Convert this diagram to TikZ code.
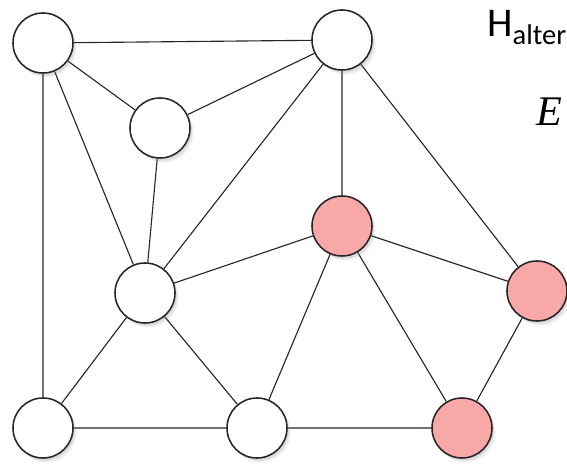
\documentclass[tikz,border=0pt]{standalone}
\usepackage{fontspec}
\setmainfont{Carlito}
\newfontfamily\serifitalic{Liberation Serif}
\usetikzlibrary{shadows,backgrounds}

\definecolor{vertexred}{RGB}{248,168,166}

\begin{document}
\begin{tikzpicture}
    [x=0.025cm,y=-0.025cm,
    vertex/.style={circle,minimum size=1.5cm,inner sep=0pt,draw=black!85,line width=1.1pt,fill=white,
      drop shadow={shadow xshift=0.9mm,shadow yshift=-1.1mm,opacity=0.12,scale=1.04},
      drop shadow={shadow xshift=0.5mm,shadow yshift=-0.7mm,opacity=0.18}},
    marked/.style={vertex,fill=vertexred},
    edge/.style={draw=black!85,line width=0.8pt}]
    \useasboundingbox (0,0) rectangle (567,466);
    \node at ( 43, 43) [vertex] (tl) {};
    \node at (342, 40) [vertex] (tr) {};
    \node at (160,128) [vertex] (in) {};
    \node at (145,293) [vertex] (mid) {};
    \node at (342,226) [marked] (c1) {};
    \node at (537,291) [marked] (c2) {};
    \node at ( 43,428) [vertex] (bl) {};
    \node at (257,428) [vertex] (bm) {};
    \node at (462,428) [marked] (c3) {};
    \begin{scope}[on background layer]
    \path[edge] (tl) -- (tr) (tl) -- (in) (tl) -- (mid) (tl) -- (bl)
      (tr) -- (in) (tr) -- (mid) (tr) -- (c1) (tr) -- (c2)
      (in) -- (mid) (mid) -- (c1) (mid) -- (bl) (mid) -- (bm)
      (c1) -- (c2) (c1) -- (bm) (c1) -- (c3) (c2) -- (c3)
      (bl) -- (bm) (bm) -- (c3);
    \end{scope}
    \node at (487, 37) [anchor=base west,inner sep=0pt,font=\fontsize{29}{30}\selectfont] (hyp) {H\textsubscript{alter}};
    \node at (563,126) [anchor=base east,inner sep=0pt,font=\serifitalic\itshape\fontsize{30}{32}\selectfont] (edges) {E};
\end{tikzpicture}
\end{document}
